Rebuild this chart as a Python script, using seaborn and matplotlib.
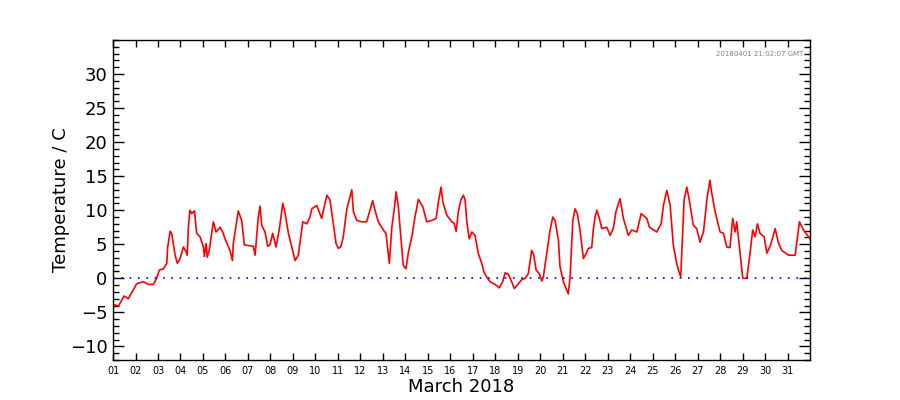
import matplotlib
matplotlib.use("Agg")
import matplotlib.pyplot as plt
import matplotlib.dates as mdates
from matplotlib.ticker import MultipleLocator
import pandas as pd
import seaborn as sns

# day of month (fractional) and temperature in C
days = [1.00, 1.24, 1.49, 1.68, 2.05, 2.35, 2.57, 2.79, 2.94, 3.06, 3.24, 3.39, 3.43, 3.54, 3.61,
        3.76, 3.86, 3.98, 4.13, 4.25, 4.30, 4.35, 4.42, 4.50, 4.62, 4.72, 4.87, 5.02, 5.06, 5.14,
        5.19, 5.28, 5.46, 5.58, 5.76, 5.88, 5.98, 6.20, 6.31, 6.35, 6.57, 6.72, 6.84, 7.24, 7.32,
        7.46, 7.54, 7.61, 7.76, 7.88, 7.98, 8.10, 8.25, 8.40, 8.55, 8.65, 8.80, 8.95, 9.10, 9.24,
        9.44, 9.62, 9.76, 9.84, 10.06, 10.28, 10.51, 10.65, 10.80, 10.92, 11.02, 11.13, 11.24, 11.40,
        11.54, 11.62, 11.69, 11.84, 12.06, 12.28, 12.43, 12.55, 12.65, 12.80, 13.02, 13.14, 13.29,
        13.40, 13.51, 13.59, 13.69, 13.80, 13.91, 14.03, 14.14, 14.29, 14.43, 14.58, 14.78, 14.95,
        15.18, 15.37, 15.47, 15.59, 15.67, 15.84, 16.07, 16.17, 16.26, 16.36, 16.47, 16.58, 16.66,
        16.73, 16.84, 16.96, 17.10, 17.25, 17.40, 17.50, 17.62, 17.77, 17.99, 18.18, 18.33, 18.44,
        18.58, 18.73, 18.85, 19.03, 19.18, 19.33, 19.47, 19.62, 19.70, 19.82, 19.96, 20.07, 20.14,
        20.29, 20.44, 20.56, 20.66, 20.81, 20.88, 21.03, 21.15, 21.25, 21.33, 21.45, 21.55, 21.65,
        21.77, 21.92, 22.04, 22.14, 22.29, 22.36, 22.44, 22.52, 22.63, 22.74, 22.96, 23.11, 23.25,
        23.37, 23.55, 23.70, 23.92, 24.07, 24.30, 24.49, 24.74, 24.86, 25.18, 25.38, 25.48, 25.63,
        25.78, 25.92, 26.07, 26.15, 26.25, 26.40, 26.52, 26.63, 26.81, 26.96, 27.11, 27.26, 27.43,
        27.55, 27.63, 27.78, 28.00, 28.15, 28.30, 28.44, 28.56, 28.67, 28.74, 28.86, 29.01, 29.19,
        29.33, 29.45, 29.56, 29.66, 29.78, 29.96, 30.08, 30.25, 30.45, 30.59, 30.74, 31.04, 31.34,
        31.53, 31.71, 31.93, 32.00]
temps = [-3.8, -4.1, -2.6, -3.0, -0.8, -0.5, -0.9, -0.9, 0.0, 1.2, 1.4, 2.2, 4.6, 6.9, 6.6,
         3.4, 2.2, 2.9, 4.6, 3.9, 3.4, 7.5, 10.0, 9.5, 9.9, 6.6, 6.1, 4.6, 3.2, 5.1,
         3.1, 4.1, 8.3, 6.8, 7.5, 6.8, 5.8, 4.1, 2.6, 5.1, 9.9, 8.5, 4.9, 4.7, 3.4,
         9.0, 10.6, 7.8, 6.8, 4.7, 4.9, 6.6, 4.6, 7.3, 11.0, 9.6, 6.6, 4.6, 2.6, 3.4,
         8.3, 8.0, 9.0, 10.2, 10.7, 8.8, 12.2, 11.5, 8.0, 5.1, 4.4, 4.6, 6.1, 10.2,
         12.0, 13.0, 9.8, 8.5, 8.3, 8.3, 10.0, 11.4, 10.0, 8.3, 7.1, 6.6, 2.2,
         7.5, 10.2, 12.7, 10.5, 6.1, 1.9, 1.4, 3.9, 6.1, 9.0, 11.6, 10.5, 8.3,
         8.5, 8.8, 11.2, 13.4, 11.2, 9.3, 8.3, 8.1, 6.9, 9.8, 11.5, 12.2, 11.5,
         8.5, 5.8, 6.8, 6.3, 3.6, 2.2, 0.9, 0.2, -0.5, -0.9, -1.4, -0.5, 0.8,
         0.6, -0.5, -1.5, -0.8, -0.2, 0.0, 0.7, 4.1, 3.6, 1.2, 0.7, -0.4, 0.2,
         3.6, 7.1, 9.0, 8.5, 5.6, 1.7, -0.5, -1.5, -2.3, 0.2, 8.5, 10.2, 9.5,
         7.1, 2.9, 3.6, 4.4, 4.5, 7.1, 9.0, 10.0, 8.8, 7.3, 7.5, 6.3, 7.3,
         9.8, 11.7, 8.8, 6.3, 7.1, 6.8, 9.5, 8.8, 7.5, 6.8, 8.0, 10.7, 12.9,
         10.7, 4.9, 2.2, 1.2, 0.2, 11.5, 13.4, 11.5, 7.8, 7.3, 5.3, 6.8, 12.0,
         14.4, 12.5, 9.8, 6.8, 6.6, 4.6, 4.5, 8.8, 6.8, 8.3, 4.6, 0.0, 0.0,
         3.6, 7.1, 6.1, 8.0, 6.6, 6.1, 3.7, 4.9, 7.3, 5.3, 4.1, 3.4, 3.4,
         8.3, 7.1, 6.1, 5.8]

yticks = [-10, -5, 0, 5, 10, 15, 20, 25, 30]

start = pd.Timestamp("2018-03-01")
df = pd.DataFrame({
    "time": start + pd.to_timedelta([d - 1 for d in days], unit="D"),
    "temp": temps,
})

sns.set_style("ticks")
plt.rcParams["font.family"] = ["DejaVu Sans"]
plt.rcParams["text.color"] = "black"
plt.rcParams["axes.labelcolor"] = "black"

fig = plt.figure(figsize=(9, 4), dpi=100)
ax = fig.add_axes([0.1256, 0.1, 0.7744, 0.8])

sns.lineplot(data=df, x="time", y="temp", color="red", linewidth=1.2, ax=ax)
ax.axhline(0, color="blue", linestyle=(0, (1, 4)), linewidth=1.2)

ax.set_xlim(start, pd.Timestamp("2018-04-01"))
ax.set_ylim(-12, 35)
ax.set_xticks(pd.date_range(start, periods=31, freq="D"))
ax.xaxis.set_major_formatter(mdates.DateFormatter("%d"))
ax.set_yticks(yticks)
ax.yaxis.set_minor_locator(MultipleLocator(1))

ax.tick_params(which="both", direction="in", top=True, right=True, colors="black")
ax.tick_params(axis="y", which="major", length=8, width=1, labelsize=13, pad=4)
ax.tick_params(axis="y", which="minor", length=4, width=1)
ax.tick_params(axis="x", which="major", length=5, width=1, labelsize=7, pad=4)
for s in ax.spines.values():
    s.set_linewidth(1)
    s.set_color("black")

ax.set_xlabel("March 2018", fontsize=13, labelpad=2)
ax.set_ylabel("Temperature / C", fontsize=13, labelpad=0)
ax.text(0.99, 0.955, "20180401 21:02:07 GMT", transform=ax.transAxes,
        ha="right", va="center", fontsize=5, color="grey")

fig.savefig("out.png", dpi=100)
